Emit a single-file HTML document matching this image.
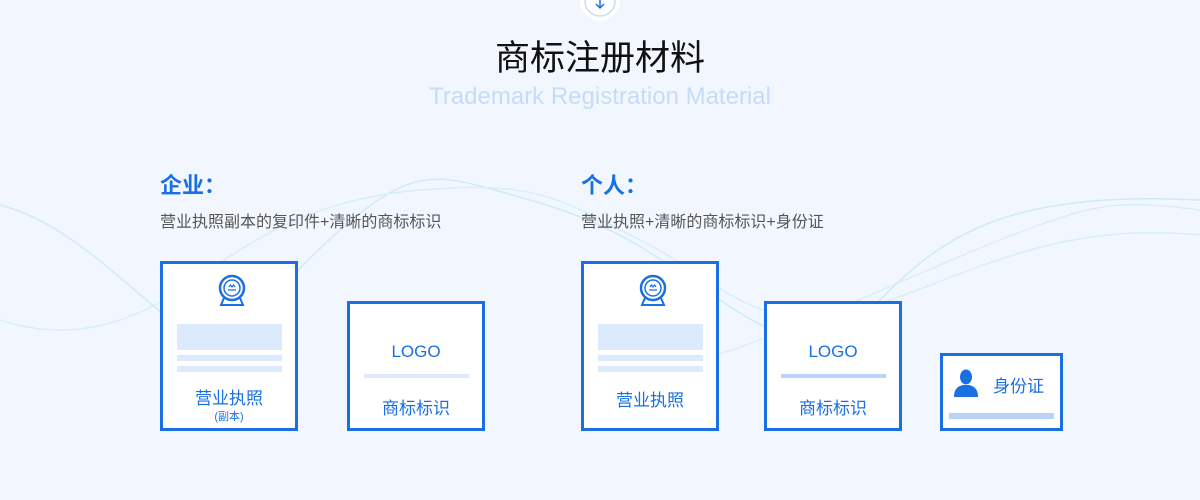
<!DOCTYPE html>
<html><head><meta charset="utf-8"><style>
*{margin:0;padding:0;box-sizing:border-box}
body{width:1200px;height:500px;overflow:hidden;background:#f2f7ff;font-family:"Liberation Sans","Noto Sans CJK SC",sans-serif;position:relative}
.a{position:absolute}
.card{position:absolute;background:#fff;border:3px solid #1a6fe3}
.t{position:absolute;left:0;right:0;text-align:center;color:#1a6fe3}
.bar{position:absolute;background:#dde9fc}
</style></head><body>
<svg class="a" style="left:0;top:0" width="1200" height="500">
<path d="M0 205 C 60 220, 110 270, 170 320 S 260 300, 340 230 S 440 175, 530 200 S 660 260, 720 300 S 820 360, 880 300 S 1000 190, 1200 200" fill="none" stroke="#cfeaf8" stroke-width="1.5"/>
<path d="M0 320 C 60 340, 120 330, 180 290 S 300 200, 420 190 S 560 200, 640 240 S 760 340, 860 310 S 1050 220, 1200 235" fill="none" stroke="#d8eef9" stroke-width="1.5"/>
<path d="M700 360 C 800 330, 900 280, 1000 240 S 1120 200, 1200 210" fill="none" stroke="#d5ecf8" stroke-width="1.2"/>
<circle cx="600" cy="1" r="20" fill="#fff"/>
<circle cx="600" cy="1" r="15" fill="none" stroke="#c7dbf7" stroke-width="1.5"/>
<path d="M600 -4 V8 M596 4 L600 8 L604 4" fill="none" stroke="#1a6fe3" stroke-width="1.5"/>
</svg>
<div class="a" style="left:0;right:0;top:30px;text-align:center;font-size:35px;color:#111">商标注册材料</div>
<div class="a" style="left:0;right:0;top:83px;text-align:center;font-size:24px;color:#c6dbf7">Trademark Registration Material</div>

<div class="a" style="left:160px;top:168px;font-size:22px;color:#1a6fe3;font-weight:bold">企业：</div>
<div class="a" style="left:160px;top:208px;font-size:16px;color:#555">营业执照副本的复印件+清晰的商标标识</div>
<div class="a" style="left:581px;top:168px;font-size:22px;color:#1a6fe3;font-weight:bold">个人：</div>
<div class="a" style="left:581px;top:208px;font-size:16px;color:#555">营业执照+清晰的商标标识+身份证</div>

<!-- card1 -->
<div class="card" style="left:160px;top:261px;width:138px;height:170px">
 <svg class="a" style="left:53px;top:10px" width="32" height="34" viewBox="0 0 32 34"><circle cx="16" cy="14" r="12" fill="none" stroke="#1a6fe3" stroke-width="2.5"/><circle cx="16" cy="14" r="8" fill="none" stroke="#1a6fe3" stroke-width="1.5"/><path d="M12 16h8M13 13l1.5-2 1.5 2 1.5-2 1.5 2" stroke="#1a6fe3" fill="none" stroke-width="1.2"/><path d="M8 24 L5 31 H27 L24 24" fill="none" stroke="#1a6fe3" stroke-width="2"/></svg>
 <div class="bar" style="left:14px;top:60px;width:105px;height:26px"></div>
 <div class="bar" style="left:14px;top:91px;width:105px;height:6px"></div>
 <div class="bar" style="left:14px;top:102px;width:105px;height:6px"></div>
 <div class="t" style="top:120px;font-size:17px">营业执照</div>
 <div class="t" style="top:144px;font-size:11px">(副本)</div>
</div>
<!-- card2 -->
<div class="card" style="left:347px;top:301px;width:138px;height:130px">
 <div class="t" style="top:38px;font-size:17px">LOGO</div>
 <div class="bar" style="left:14px;top:70px;width:105px;height:4px"></div>
 <div class="t" style="top:90px;font-size:17px">商标标识</div>
</div>
<!-- card3 -->
<div class="card" style="left:581px;top:261px;width:138px;height:170px">
 <svg class="a" style="left:53px;top:10px" width="32" height="34" viewBox="0 0 32 34"><circle cx="16" cy="14" r="12" fill="none" stroke="#1a6fe3" stroke-width="2.5"/><circle cx="16" cy="14" r="8" fill="none" stroke="#1a6fe3" stroke-width="1.5"/><path d="M12 16h8M13 13l1.5-2 1.5 2 1.5-2 1.5 2" stroke="#1a6fe3" fill="none" stroke-width="1.2"/><path d="M8 24 L5 31 H27 L24 24" fill="none" stroke="#1a6fe3" stroke-width="2"/></svg>
 <div class="bar" style="left:14px;top:60px;width:105px;height:26px"></div>
 <div class="bar" style="left:14px;top:91px;width:105px;height:6px"></div>
 <div class="bar" style="left:14px;top:102px;width:105px;height:6px"></div>
 <div class="t" style="top:122px;font-size:17px">营业执照</div>
</div>
<!-- card4 -->
<div class="card" style="left:764px;top:301px;width:138px;height:130px">
 <div class="t" style="top:38px;font-size:17px">LOGO</div>
 <div class="bar" style="left:14px;top:70px;width:105px;height:4px;background:#b9d3f8"></div>
 <div class="t" style="top:90px;font-size:17px">商标标识</div>
</div>
<!-- card5 -->
<div class="card" style="left:940px;top:353px;width:123px;height:78px">
 <svg class="a" style="left:10px;top:13px" width="26" height="28" viewBox="0 0 26 28"><ellipse cx="13" cy="8" rx="6" ry="7.5" fill="#1a6fe3"/><path d="M1 28 C1 19 6 17 10 16 L16 16 C20 17 25 19 25 28Z" fill="#1a6fe3"/></svg>
 <div class="a" style="left:50px;top:16px;font-size:17px;color:#1a6fe3">身份证</div>
 <div class="bar" style="left:6px;top:57px;width:105px;height:6px;background:#b9d3f8"></div>
</div>
</body></html>
